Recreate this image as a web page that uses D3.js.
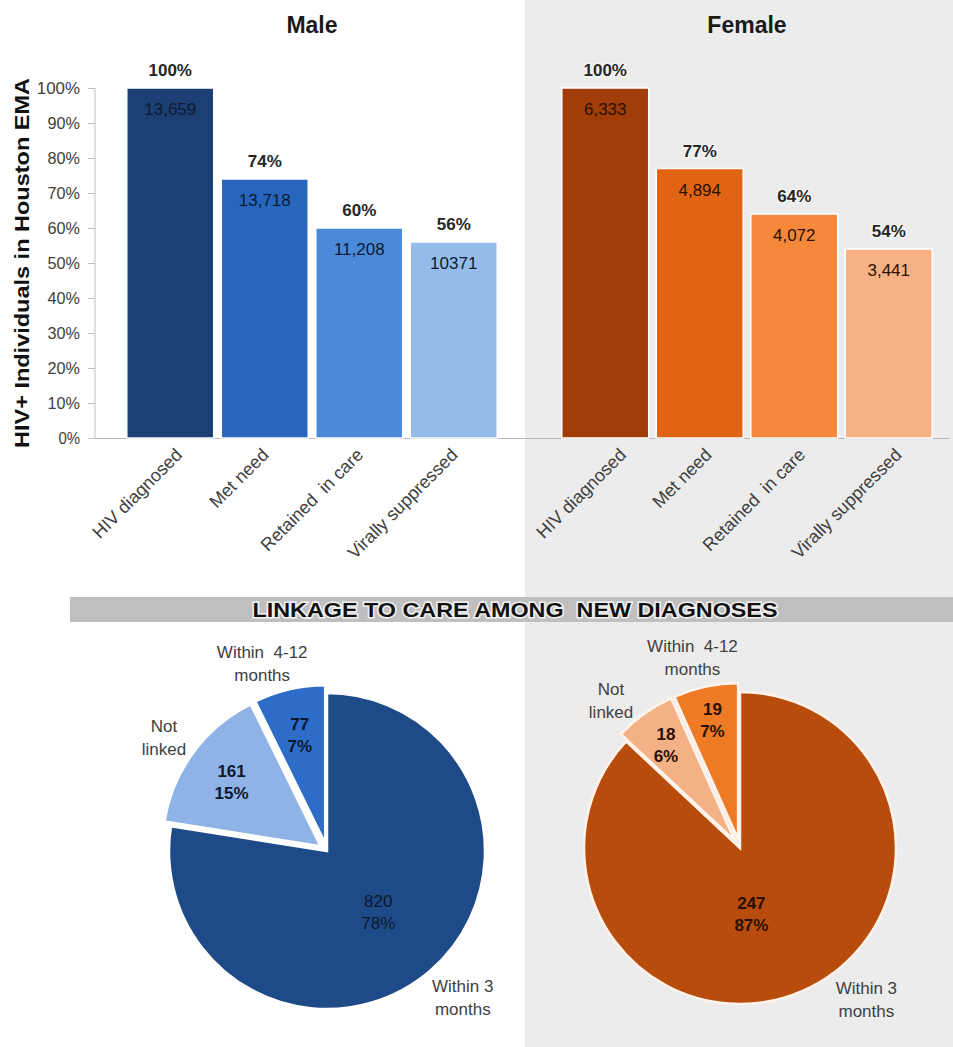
<!DOCTYPE html>
<html>
<head>
<meta charset="utf-8">
<script src="https://cdn.jsdelivr.net/npm/d3@7"></script>
<style>
  html, body { margin: 0; padding: 0; background: #fff; }
  svg { display: block; }
  text { font-family: "Liberation Sans", Arial, sans-serif; }
</style>
</head>
<body>
<svg id="chart" width="953" height="1047"></svg>
<script>
// ---------- DATA ----------
const categories = ["HIV diagnosed", "Met need", "Retained  in care", "Virally suppressed"];
const malePct = [100, 74, 60, 56];
const maleCounts = ["13,659", "13,718", "11,208", "10371"];
const femalePct = [100, 77, 64, 54];
const femaleCounts = ["6,333", "4,894", "4,072", "3,441"];
const yTicks = [0, 10, 20, 30, 40, 50, 60, 70, 80, 90, 100];
const panelTitles = ["Male", "Female"];
const yAxisTitle = "HIV+ Individuals in Houston EMA";
const bannerTitle = "LINKAGE TO CARE AMONG  NEW DIAGNOSES";

const linkLabels = [["Within 3", "months"], ["Not", "linked"], ["Within  4-12", "months"]];
const maleLinkCounts = [820, 161, 77];
const maleLinkPct = [78, 15, 7];
const femaleLinkCounts = [247, 18, 19];
const femaleLinkPct = [87, 6, 7];

// ---------- STYLE / LAYOUT ----------
const maleColors = ["#1c3f74", "#2866bd", "#4b8ad9", "#95bbeb"];
const femaleColors = ["#a03d08", "#e06414", "#f5883a", "#f7b184"];
const malePieColors = ["#1f4a88", "#8fb3e6", "#2d6cc8"];
const femalePieColors = ["#b84c0c", "#f4b185", "#ef7a26"];

const svg = d3.select("#chart");

// right gray panel
svg.append("rect").attr("x", 525).attr("y", 0).attr("width", 428).attr("height", 1047).attr("fill", "#ececec");

const y = d3.scaleLinear().domain([0, 100]).range([438, 88]);

// y axis
const yAxis = d3.axisLeft(y).tickValues(yTicks).tickFormat(d => d + "%").tickSize(7).tickPadding(8);
const gy = svg.append("g").attr("transform", "translate(95,0)").call(yAxis);
gy.selectAll("path, line").attr("stroke", "#c4c4c4");
gy.select(".domain").attr("d", "M0,88V438");
gy.selectAll("text").attr("font-size", 16).attr("fill", "#404040").attr("font-family", "Liberation Sans, Arial, sans-serif")
  .attr("textLength", d => (String(d).length + 1) * 10.8).attr("lengthAdjust", "spacingAndGlyphs");

// baseline
svg.append("line").attr("x1", 95).attr("x2", 950).attr("y1", 438.5).attr("y2", 438.5).attr("stroke", "#b8b8b8").attr("stroke-width", 1);

// y axis title
svg.append("text")
  .attr("transform", "translate(29,263) rotate(-90)")
  .attr("text-anchor", "middle")
  .attr("font-size", 21).attr("font-weight", "bold").attr("fill", "#111")
  .attr("textLength", 370).attr("lengthAdjust", "spacingAndGlyphs")
  .text(yAxisTitle);

function drawBars(pct, counts, colors, range, title, valueColor, labelShift) {
  const x = d3.scaleBand().domain(categories).range(range).paddingInner(0.08).paddingOuter(0.04);
  const g = svg.append("g");
  g.selectAll("rect.bar").data(categories).join("rect")
    .attr("class", "bar")
    .attr("x", d => x(d)).attr("width", x.bandwidth())
    .attr("y", (d, i) => y(pct[i])).attr("height", (d, i) => y(0) - y(pct[i]))
    .attr("fill", (d, i) => colors[i])
    .attr("stroke", "#fff").attr("stroke-width", 1.5);
  g.selectAll("text.pct").data(categories).join("text")
    .attr("class", "pct")
    .attr("x", d => x(d) + x.bandwidth() / 2)
    .attr("y", (d, i) => y(pct[i]) - 12)
    .attr("text-anchor", "middle").attr("font-size", 17).attr("font-weight", "bold").attr("fill", "#262626")
    .attr("stroke", "#fff").attr("stroke-width", 2.5).attr("paint-order", "stroke").attr("stroke-opacity", 0.6)
    .text((d, i) => pct[i] + "%");
  g.selectAll("text.cnt").data(categories).join("text")
    .attr("class", "cnt")
    .attr("x", d => x(d) + x.bandwidth() / 2)
    .attr("y", (d, i) => y(pct[i]) + 27)
    .attr("text-anchor", "middle").attr("font-size", 17).attr("fill", valueColor)
    .text((d, i) => counts[i]);
  g.selectAll("text.cat").data(categories).join("text")
    .attr("class", "cat")
    .attr("transform", (d, i) => `translate(${x(d) + x.bandwidth() / 2 + labelShift[i]},456) rotate(-45)`)
    .attr("text-anchor", "end").attr("font-size", 18).attr("fill", "#404040")
    .style("white-space", "pre")
    .text(d => d);
  svg.append("text")
    .attr("x", (range[0] + range[1]) / 2).attr("y", 33)
    .attr("text-anchor", "middle").attr("font-size", 23).attr("font-weight", "bold").attr("fill", "#1a1a1a")
    .text(title);
}

drawBars(malePct, maleCounts, maleColors, [123, 501], panelTitles[0], "#0d1a30", [13, 5, 5, 5]);
drawBars(femalePct, femaleCounts, femaleColors, [558, 936], panelTitles[1], "#2a1100", [22, 13, 12, 14]);

// banner
svg.append("rect").attr("x", 70).attr("y", 597).attr("width", 883).attr("height", 25).attr("fill", "#bfbfbf");
svg.append("text")
  .attr("x", 515).attr("y", 617)
  .attr("text-anchor", "middle")
  .attr("font-family", "Liberation Sans Narrow, Arial Narrow, Liberation Sans, sans-serif")
  .attr("font-size", 21).attr("font-weight", "bold").attr("fill", "#111")
  .attr("stroke", "#fff").attr("stroke-width", 3).attr("stroke-opacity", 0.8).attr("paint-order", "stroke")
  .attr("textLength", 525).attr("lengthAdjust", "spacingAndGlyphs")
  .style("white-space", "pre")
  .text(bannerTitle);

function drawPie(counts, pcts, colors, cfg) {
  const pie = d3.pie().sort(null).value(d => d);
  const arcs = pie(counts);
  const arc = d3.arc().innerRadius(0).outerRadius(cfg.r);
  const g = svg.append("g").attr("transform", `translate(${cfg.cx},${cfg.cy})`);
  const pt = (a, rad) => [Math.sin(a) * rad, -Math.cos(a) * rad];
  arcs.forEach((a, i) => {
    const mid = (a.startAngle + a.endAngle) / 2;
    const off = pt(mid, cfg.explode[i]);
    g.append("path")
      .attr("d", arc(a))
      .attr("transform", `translate(${off[0]},${off[1]})`)
      .attr("fill", colors[i])
      .attr("stroke", cfg.stroke).attr("stroke-width", 2.5).attr("stroke-linejoin", "miter");
    // inner label
    const ia = cfg.innerAngle[i] != null ? cfg.innerAngle[i] * Math.PI / 180 : mid;
    const ip = pt(ia, cfg.r * cfg.innerR[i] + cfg.explode[i]);
    const t = g.append("text").attr("text-anchor", "middle")
      .attr("font-size", 17).attr("font-weight", cfg.innerWeight[i]).attr("fill", cfg.innerColor);
    t.append("tspan").attr("x", ip[0]).attr("y", ip[1] - 4).text(counts[i]);
    t.append("tspan").attr("x", ip[0]).attr("y", ip[1] + 18).text(pcts[i] + "%");
    // outer label
    const oa = cfg.outerAngle[i] != null ? cfg.outerAngle[i] * Math.PI / 180 : mid;
    const op = pt(oa, cfg.r * 1.26);
    const o = g.append("text").attr("text-anchor", "middle").attr("font-size", 17).attr("fill", "#404040")
      .style("white-space", "pre");
    linkLabels[i].forEach((line, k) => {
      o.append("tspan").attr("x", op[0]).attr("y", op[1] - 5 + k * 23).text(line);
    });
  });
}

drawPie(maleLinkCounts, maleLinkPct, malePieColors, {
  cx: 327, cy: 851, r: 158, explode: [0, 8, 8], stroke: "#fff",
  innerR: [0.5, 0.7, 0.71], innerAngle: [null, null, null], innerWeight: ["normal", "bold", "bold"],
  innerColor: "#0b1830", outerAngle: [137, 305, 341]
});
drawPie(femaleLinkCounts, femaleLinkPct, femalePieColors, {
  cx: 740, cy: 848, r: 156, explode: [0, 9, 9], stroke: "#fff3ea",
  innerR: [0.42, 0.76, 0.79], innerAngle: [170, null, null], innerWeight: ["bold", "bold", "bold"],
  innerColor: "#2a0f00", outerAngle: [140, 319, 346]
});
</script>
</body>
</html>
